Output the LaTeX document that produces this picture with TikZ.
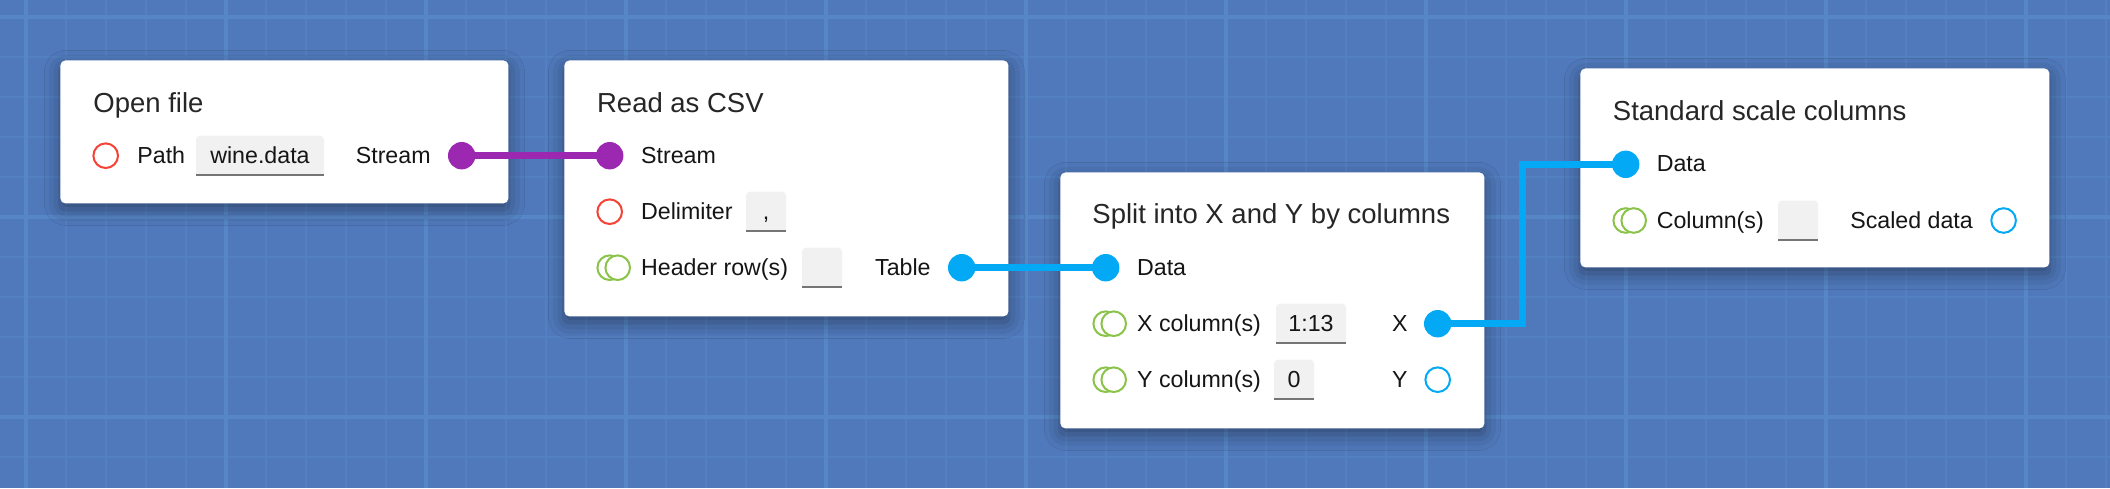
\documentclass[tikz,border=0pt]{standalone}
\usepackage{fontspec}
\setmainfont{Liberation Sans}
\usetikzlibrary{shadows.blur}
\pgfdeclarelayer{bg}\pgfdeclarelayer{edges}\pgfsetlayers{bg,edges,main}
\definecolor{canvas}{RGB}{80,121,187}
\definecolor{gridminor}{RGB}{83,128,192}
\definecolor{gridmajor}{RGB}{86,134,198}
\definecolor{portpurple}{HTML}{9C27B0}
\definecolor{portblue}{HTML}{03A9F4}
\definecolor{portred}{HTML}{F44336}
\definecolor{portgreen}{HTML}{8BC34A}
\definecolor{fieldbg}{HTML}{F1F1F1}
\definecolor{fieldline}{HTML}{757575}
\definecolor{titlec}{HTML}{262626}
\definecolor{lblc}{HTML}{151515}
\tikzset{
  card/.style={fill=white, rounded corners=2.5pt, inner sep=0, anchor=north west,
    blur shadow={shadow xshift=0pt, shadow yshift=-3pt, shadow blur radius=8pt, shadow opacity=40}},
  titletext/.style={font=\fontsize{13.75}{16}\selectfont, text=titlec, inner sep=0, anchor=base west},
  lbl/.style={font=\fontsize{11.6}{14}\selectfont, text=lblc, inner sep=0, anchor=base west},
  olbl/.style={lbl, anchor=base east},
  dotport/.style={circle, fill=#1, minimum size=13.7pt, inner sep=0},
  ringport/.style={circle, draw=#1, line width=1pt, fill=white, minimum size=12.3pt, inner sep=0},
  wire/.style={line width=3.5pt}
}
\newcommand\cardbox[5]{%
  \node[card, minimum width={(#4-#2)*0.5pt}, minimum height={(#5-#3)*0.5pt}] (#1) at (#2,#3) {};}
\newcommand\fieldbox[6]{%
  \fill[fieldbg, rounded corners=2pt] (#2,#3) rectangle (#4,#5);
  \fill[fieldbg] (#2,{(#3+#5)/2}) rectangle (#4,#5);
  \draw[fieldline, line width=1pt] (#2,#5) -- (#4,#5);
  \node[lbl, anchor=base] (#1) at ({(#2+#4)/2},{#5-12}) {#6};}
\newcommand\ringpair[3]{%
  \node[ringport=portgreen] (#1a) at (#2,#3) {};
  \node[ringport=portgreen] (#1b) at ({#2+8},#3) {};}
\begin{document}
\begin{tikzpicture}[x=0.5pt,y=-0.5pt]
\useasboundingbox (0,0) rectangle (2110,488);
\begin{pgfonlayer}{bg}
  \fill[canvas] (0,0) rectangle (2110,488);
  \foreach \gx in {26,66,...,2106} \draw[gridminor, line width=1pt] (\gx,0) -- (\gx,488);
  \foreach \gy in {17,57,...,457} \draw[gridminor, line width=1pt] (0,\gy) -- (2110,\gy);
  \foreach \gx in {26,226,...,2026} \draw[gridmajor, line width=2pt] (\gx,0) -- (\gx,488);
  \foreach \gy in {17,217,417} \draw[gridmajor, line width=2pt] (0,\gy) -- (2110,\gy);
  \cardbox{b1}{60}{60}{508}{203}
  \cardbox{b2}{564}{60}{1008}{316}
  \cardbox{b3}{1060}{172}{1484}{428}
  \cardbox{b4}{1580}{68}{2049}{267}
\end{pgfonlayer}

% Box 1: Open file
\node[titletext] (t1) at (93,112) {Open file};
\node[ringport=portred] (p1path) at (105.7,155.7) {};
\node[lbl] (l1path) at (137,163.2) {Path};
\fieldbox{f1path}{196}{135.7}{324}{175.2}{wine.data}
\node[olbl] (l1out) at (431,163.2) {Stream};
\node[dotport=portpurple] (p1out) at (461.7,155.7) {};

% Box 2: Read as CSV
\node[titletext] (t2) at (596.7,112) {Read as CSV};
\node[dotport=portpurple] (p2in) at (609.7,155.7) {};
\node[lbl] (l2in) at (640.7,163.2) {Stream};
\node[ringport=portred] (p2del) at (609.7,211.7) {};
\node[lbl] (l2del) at (640.7,219.2) {Delimiter};
\fieldbox{f2del}{746}{191.7}{786}{231.2}{,}
\ringpair{p2hdr}{609.7}{267.7}
\node[lbl] (l2hdr) at (640.7,275.2) {Header row(s)};
\fieldbox{f2hdr}{802}{247.7}{842}{287.2}{}
\node[olbl] (l2out) at (931,275.2) {Table};
\node[dotport=portblue] (p2out) at (961.7,267.7) {};

% Box 3: Split into X and Y by columns
\node[titletext] (t3) at (1092,223) {Split into X and Y by columns};
\node[dotport=portblue] (p3in) at (1105.7,267.7) {};
\node[lbl] (l3in) at (1136.7,275.2) {Data};
\ringpair{p3xc}{1105.7}{323.7}
\node[lbl] (l3xc) at (1136.7,331.2) {X column(s)};
\fieldbox{f3xc}{1276}{303.7}{1346}{343.2}{1:13}
\node[olbl] (l3x) at (1408,331.2) {X};
\node[dotport=portblue] (p3x) at (1437.7,323.7) {};
\ringpair{p3yc}{1105.7}{379.7}
\node[lbl] (l3yc) at (1136.7,387.2) {Y column(s)};
\fieldbox{f3yc}{1274}{359.7}{1314}{399.2}{0}
\node[olbl] (l3y) at (1408,387.2) {Y};
\node[ringport=portblue] (p3y) at (1437.7,379.7) {};

% Box 4: Standard scale columns
\node[titletext] (t4) at (1612.5,120) {Standard scale columns};
\node[dotport=portblue] (p4in) at (1625.7,164.3) {};
\node[lbl] (l4in) at (1656.4,171.8) {Data};
\ringpair{p4col}{1625.7}{220.5}
\node[lbl] (l4col) at (1656.4,228) {Column(s)};
\fieldbox{f4col}{1778}{200.5}{1818}{240}{}
\node[olbl] (l4out) at (1973.2,228) {Scaled data};
\node[ringport=portblue] (p4out) at (2003.6,220.5) {};

\coordinate (elbow) at (1522,250);

\begin{pgfonlayer}{edges}
  \draw[wire, portpurple] (p1out.center) -- (p2in.center);
  \draw[wire, portblue] (p2out.center) -- (p3in.center);
  \draw[wire, portblue] (p3x.center) -- (p3x.center -| elbow) |- (p4in.center);
\end{pgfonlayer}
\end{tikzpicture}
\end{document}
